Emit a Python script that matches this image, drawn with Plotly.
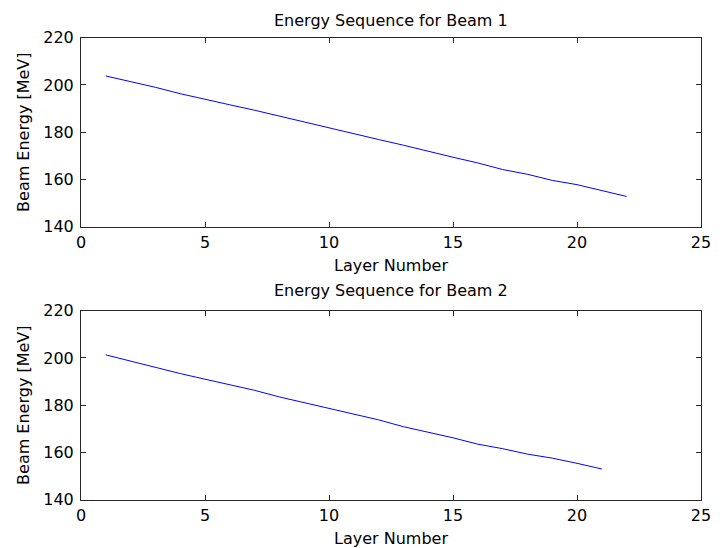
import plotly.graph_objects as go

layers_beam1 = list(range(1, 23))
energy_beam1 = [203.8, 201.5, 199.0, 196.3, 193.8, 191.6, 189.3, 186.8, 184.2, 181.6, 179.2,
                176.9, 174.5, 171.8, 169.4, 167.0, 164.2, 162.2, 159.6, 157.8, 155.2, 152.8]
layers_beam2 = list(range(1, 22))
energy_beam2 = [201.3, 198.6, 196.0, 193.4, 191.0, 188.7, 186.3, 183.5, 181.0, 178.6, 176.3,
                173.8, 170.9, 168.6, 166.2, 163.5, 161.6, 159.3, 157.6, 155.4, 153.0]
titles = ["Energy Sequence for Beam 1", "Energy Sequence for Beam 2"]
x_ticks = [0, 5, 10, 15, 20, 25]
y_ticks = [140, 160, 180, 200, 220]

OFF = 8  # page body margin
W, H = 722 - OFF, 548 - OFF
FONT = "DejaVu Sans, sans-serif"
FS = 16

def px_x(X):
    return (X - OFF) / W

def px_y(Y):
    return 1 - (Y - OFF) / H

fig = go.Figure()
fig.add_trace(go.Scatter(x=layers_beam1, y=energy_beam1, mode="lines",
                         line=dict(color="#0000ff", width=1), xaxis="x", yaxis="y"))
fig.add_trace(go.Scatter(x=layers_beam2, y=energy_beam2, mode="lines",
                         line=dict(color="#0000ff", width=1), xaxis="x2", yaxis="y2"))

xdom = [px_x(81), px_x(701)]
ydom1 = [px_y(226.7), px_y(37.7)]
ydom2 = [px_y(499.7), px_y(310.7)]

axis_common = dict(showline=True, linecolor="#262626", linewidth=1, mirror="ticks",
                   ticks="inside", ticklen=5, tickcolor="#262626", showgrid=False,
                   zeroline=False, automargin=False,
                   tickfont=dict(family=FONT, size=FS, color="#000"))

def xa(anchor):
    return dict(axis_common, domain=xdom, range=[0, 25], tickvals=x_ticks, anchor=anchor,
                ticklabelstandoff=1,
                title=dict(text="Layer Number", font=dict(family=FONT, size=FS, color="#000"),
                           standoff=8))

def ya(dom, anchor):
    return dict(axis_common, domain=dom, range=[140, 220], tickvals=y_ticks, anchor=anchor,
                ticklabelstandoff=3,
                title=dict(text="Beam Energy [MeV]", font=dict(family=FONT, size=FS, color="#000"),
                           standoff=9))

annotations = []
for t, ytop in zip(titles, [20, 290]):
    annotations.append(dict(text=t, x=0.5 * (xdom[0] + xdom[1]), y=px_y(ytop),
                            xref="paper", yref="paper", showarrow=False,
                            xanchor="center", yanchor="middle",
                            font=dict(family=FONT, size=FS, color="#000")))

fig.update_layout(
    width=W, height=H,
    margin=dict(l=0, r=0, t=0, b=0),
    paper_bgcolor="white", plot_bgcolor="white",
    showlegend=False,
    xaxis=xa("y"), yaxis=ya(ydom1, "x"),
    xaxis2=xa("y2"), yaxis2=ya(ydom2, "x2"),
    annotations=annotations,
)

fig.write_html("out.html")
